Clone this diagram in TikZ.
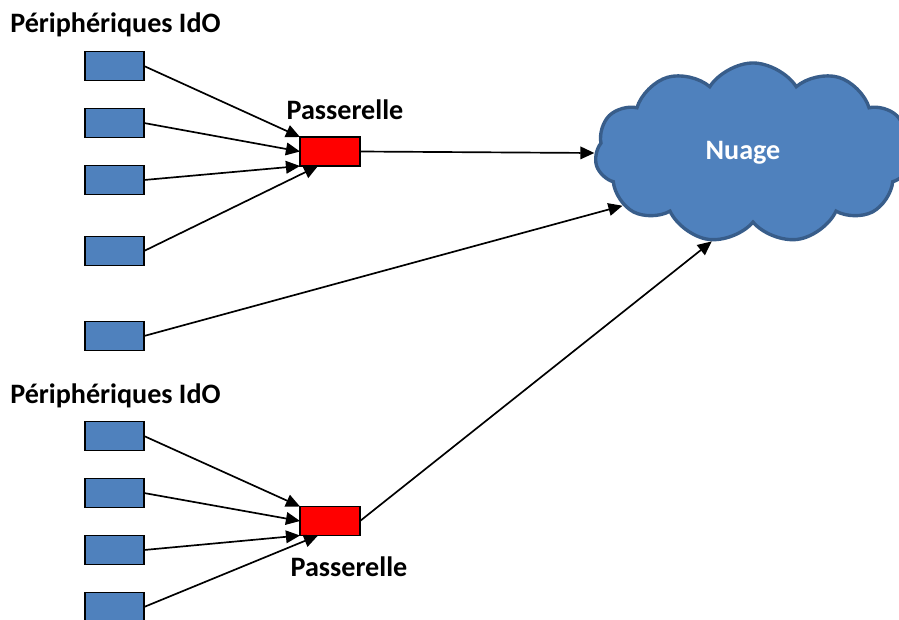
\documentclass[tikz,border=0pt]{standalone}
\usepackage{fontspec}
\setmainfont{Carlito}
\usepackage{xcolor}
\usepackage{tikz}
\usetikzlibrary{shapes.symbols,arrows.meta}

\definecolor{iotblue}{HTML}{4F81BD}
\definecolor{cloudedge}{HTML}{385D8A}

\tikzset{
  dev/.style={draw=black,fill=iotblue,line width=1pt,minimum width=1.475cm,
    minimum height=0.725cm,inner sep=0pt,outer sep=0pt},
  gw/.style={draw=black,fill=red,line width=1pt,minimum width=1.5cm,
    minimum height=0.725cm,inner sep=0pt,outer sep=0pt},
  lbl/.style={font=\fontsize{20}{24}\selectfont\bfseries,inner sep=0pt},
  link/.style={line width=1.2pt,-{Triangle[length=10pt,width=9pt]}}
}

\begin{document}
\begin{tikzpicture}[x=0.025cm,y=-0.025cm]
    \useasboundingbox (0,0) rectangle (899,619);
    \clip (0,0) rectangle (899,619);

    \node[cloud,cloud puffs=11,cloud puff arc=115,aspect=1.8,draw=cloudedge,
      fill=iotblue,line width=2.4pt,minimum width=7.9cm,minimum height=4.5cm,
      text=white,font=\fontsize{20}{24}\selectfont\bfseries] (nuage) at (753,153) {\hspace*{-0.5cm}Nuage};

    \node[lbl,anchor=west] (titre1) at (10,25) {Périphériques IdO};
    \node[lbl,anchor=west] (titre2) at (10,396) {Périphériques IdO};

    \node[dev] (a1) at (114.5,66) {};
    \node[dev] (a2) at (114.5,123) {};
    \node[dev] (a3) at (114.5,180) {};
    \node[dev] (a4) at (114.5,251) {};
    \node[dev] (a5) at (114.5,336) {};

    \node[dev] (b1) at (114.5,436) {};
    \node[dev] (b2) at (114.5,493) {};
    \node[dev] (b3) at (114.5,550) {};
    \node[dev] (b4) at (114.5,607) {};

    \node[gw] (gw1) at (330,151.5) {};
    \node[gw] (gw2) at (330,521) {};
    \node[lbl] (pass1) at (345,110) {Passerelle};
    \node[lbl] (pass2) at (349,567) {Passerelle};

    \draw[link] (a1.east) -- (gw1.north west);
    \draw[link] (a2.east) -- (gw1.west);
    \draw[link] (a3.east) -- (gw1.south west);
    \draw[link] (a4.east) -- ([xshift=0.45cm]gw1.south west);

    \draw[link] (b1.east) -- (gw2.north west);
    \draw[link] (b2.east) -- (gw2.west);
    \draw[link] (b3.east) -- (gw2.south west);
    \draw[link] (b4.east) -- ([xshift=0.45cm]gw2.south west);

    \draw[link] (gw1.east) -- (nuage.west);
    \draw[link] (a5.east) -- (nuage.-158);
    \draw[link] (gw2.east) -- (nuage.-115);
  \end{tikzpicture}
\end{document}
